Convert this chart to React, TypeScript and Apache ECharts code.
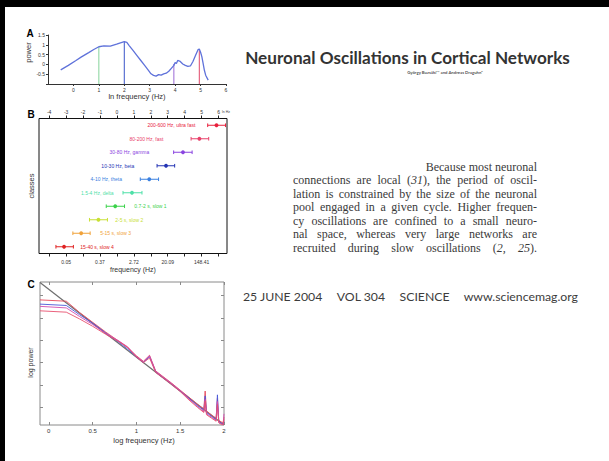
import React, { useEffect, useRef } from 'react';
import * as echarts from 'echarts';

// ---------- Panel A: power vs ln frequency ----------
const aFreq = [-0.5, -0.2, 0.1, 0.3, 0.6, 0.8, 1.0, 1.2, 1.45, 1.7, 1.85, 2.0, 2.1, 2.2, 2.35, 2.5, 2.65, 2.8, 2.95, 3.05, 3.15, 3.25, 3.35, 3.45, 3.55, 3.65, 3.75, 3.85, 3.95, 4.0, 4.05, 4.1, 4.2, 4.3, 4.4, 4.5, 4.6, 4.7, 4.8, 4.9, 4.95, 5.0, 5.05, 5.1, 5.15, 5.2, 5.3];
const aPower = [-0.28, -0.05, 0.2, 0.37, 0.6, 0.76, 0.9, 0.94, 0.93, 1.03, 1.1, 1.16, 1.12, 0.95, 0.7, 0.45, 0.2, -0.05, -0.3, -0.48, -0.56, -0.6, -0.52, -0.55, -0.48, -0.45, -0.35, -0.2, -0.05, 0.1, 0.05, 0.2, 0.15, 0.02, -0.05, -0.1, -0.08, 0.15, 0.45, 0.75, 0.78, 0.62, 0.4, 0.05, -0.3, -0.55, -0.8];
const aMarkFreq = [1, 2, 3.95, 4.95];
const aMarkTop = [0.9, 1.16, 0.02, 0.72];
const aMarkColors = ['#86d39a', '#3a55c8', '#9b6ad6', '#e0486a'];
const aXTicks = [0, 1, 2, 3, 4, 5, 6];

// ---------- Panel B: oscillation classes ----------
const bClasses = ['200-600 Hz, ultra fast', '80-200 Hz, fast', '30-80 Hz, gamma', '10-30 Hz, beta', '4-10 Hz, theta', '1.5-4 Hz, delta', '0.7-2 s, slow 1', '2-5 s, slow 2', '5-15 s, slow 3', '15-40 s, slow 4'];
const bLow = [5.36, 4.38, 3.35, 2.37, 1.38, 0.36, -0.63, -1.62, -2.6, -3.6];
const bMid = [5.88, 4.87, 3.9, 2.9, 1.91, 0.89, -0.1, -1.09, -2.11, -3.12];
const bHigh = [6.41, 5.42, 4.44, 3.41, 2.46, 1.48, 0.45, -0.56, -1.58, -2.57];
const bLabelAt = [4.63, 2.74, 1.91, 1.02, 0.3, -0.2, 1.03, -0.1, -0.99, -2.17];
const bLabelSide = ['left', 'left', 'left', 'left', 'left', 'left', 'right', 'right', 'right', 'right'];
const bColors = ['#e8203c', '#e8406a', '#8a44e0', '#2434b4', '#3a80e0', '#4ee0a8', '#3ad24a', '#c8e034', '#f0a23a', '#e02424'];
const bTopTicks = [-4, -3, -2, -1, 0, 1, 2, 3, 4, 5, 6];
const bBottomTickValues = [-3, -1, 1, 3, 5];
const bBottomTickLabels = ['0.05', '0.37', '2.72', '20.09', '148.41'];

// ---------- Panel C: log power vs log frequency ----------
const cFreq = [-0.1, 0.2, 0.35, 0.5, 0.65, 0.8, 0.9, 1.0, 1.08, 1.15, 1.22, 1.3, 1.4, 1.5, 1.6, 1.7, 1.77, 1.785, 1.8, 1.86, 1.91, 1.925, 1.94, 1.97, 1.99, 2.0];
const cPower1 = [4.80, 4.74, 4.24, 3.80, 3.36, 2.95, 2.66, 2.30, 2.05, 2.32, 1.62, 1.38, 1.08, 0.76, 0.44, 0.12, -0.08, 0.72, -0.18, -0.36, -0.50, 0.40, -0.60, -0.66, -0.70, -0.45];
const cPower2 = [4.61, 4.55, 4.14, 3.76, 3.32, 2.90, 2.60, 2.25, 2.00, 2.26, 1.58, 1.33, 1.04, 0.72, 0.40, 0.06, -0.14, 0.50, -0.24, -0.42, -0.56, 0.55, -0.64, -0.72, -0.76, -0.65];
const cPower3 = [4.51, 4.44, 4.06, 3.70, 3.30, 2.96, 2.70, 2.27, 2.03, 2.30, 1.60, 1.36, 1.06, 0.74, 0.36, 0.02, -0.20, 0.35, -0.30, -0.46, -0.60, 0.25, -0.68, -0.75, -0.78, -0.30];
const cPower4 = [4.31, 4.25, 3.95, 3.62, 3.26, 2.93, 2.68, 2.24, 1.99, 2.20, 1.55, 1.32, 1.02, 0.70, 0.32, -0.02, -0.24, 0.28, -0.34, -0.50, -0.63, 0.12, -0.70, -0.78, -0.80, -0.55];
const cLineColors = ['#e8485a', '#4a58d8', '#d44cb0', '#e8506e'];
const cRefFreq = [-0.1, 2.0];
const cRefPower = [5.58, -0.8];
const cXTicks = [0, 0.5, 1, 1.5, 2];
const cYTicks = [0, 1, 2, 3, 4, 5];

// ---------- Text ----------
const titleText = 'Neuronal Oscillations in Cortical Networks';
const authorText = 'György Buzsáki¹* and Andreas Draguhn²';
const firstLine = 'Because most neuronal';
const paraLines = [
  'connections are local (*31*), the period of oscil-',
  'lation is constrained by the size of the neuronal',
  'pool engaged in a given cycle. Higher frequen-',
  'cy oscillations are confined to a small neuro-',
  'nal space, whereas very large networks are',
  'recruited during slow oscillations (*2*, *25*).',
];
const footerParts = ['25 JUNE 2004', 'VOL 304', 'SCIENCE', 'www.sciencemag.org'];

const SANS = 'Liberation Sans';
const SERIF = 'Liberation Serif';
const HUMAN = 'Lato';

let ctx2d: CanvasRenderingContext2D | null = null;
function tw(text: string, font: string): number {
  if (!ctx2d) ctx2d = document.createElement('canvas').getContext('2d');
  if (!ctx2d) return text.length * 5;
  ctx2d.font = font;
  return ctx2d.measureText(text).width;
}

function justify(words: string[], left: number, right: number, y: number, fontSize: number, family: string, fill: string, weight = 'normal') {
  const font = `${weight} ${fontSize}px "${family}"`;
  const plain = words.map((w) => w.replace(/\*/g, ''));
  const widths = plain.map((w) => tw(w, font));
  const total = widths.reduce((s, v) => s + v, 0);
  const gap = words.length > 1 ? (right - left - total) / (words.length - 1) : 0;
  let x = left;
  return words.map((w, i) => {
    const el = {
      type: 'text',
      x,
      y,
      style: {
        text: w.replace(/\*(.*?)\*/g, '{i|$1}'),
        fill,
        fontSize,
        fontFamily: family,
        fontWeight: weight,
        align: 'left',
        verticalAlign: 'middle',
        rich: { i: { fontStyle: 'italic', fontSize, fontFamily: family, fill } },
      },
    };
    x += widths[i] + gap;
    return el;
  });
}

function buildOption() {
  const titleSize = (15 * 325) / tw(titleText, `bold 15px "${HUMAN}"`);
  const authorSize = (5 * 76) / tw(authorText, `bold 5px "${HUMAN}"`);
  const paraSize = Math.min(12, (11 * 242) / tw(paraLines[1], `11px "${SERIF}"`));
  const footTotal = footerParts.reduce((s, p) => s + tw(p, `11px "${HUMAN}"`), 0);
  const footSize = (11 * 293) / footTotal;

  const paraY = [180, 193.5, 207, 220.5, 234, 247.5];
  const graphics: any[] = [
    { type: 'rect', shape: { x: 0, y: 0, width: 5, height: 461 }, style: { fill: '#000' } },
    { type: 'rect', shape: { x: 0, y: 0, width: 609, height: 7 }, style: { fill: '#000' } },
    { type: 'text', x: 30, y: 33, style: { text: 'A', fontSize: 10, fontWeight: 'bold', fontFamily: SANS, fill: '#000', align: 'center', verticalAlign: 'middle' } },
    { type: 'text', x: 31, y: 114.5, style: { text: 'B', fontSize: 10, fontWeight: 'bold', fontFamily: SANS, fill: '#000', align: 'center', verticalAlign: 'middle' } },
    { type: 'text', x: 31, y: 284, style: { text: 'C', fontSize: 10, fontWeight: 'bold', fontFamily: SANS, fill: '#000', align: 'center', verticalAlign: 'middle' } },
    { type: 'text', x: 222, y: 111.5, style: { text: 'ln Hz', fontSize: 3.5, fontFamily: SANS, fill: '#444', align: 'left', verticalAlign: 'middle' } },
    { type: 'text', x: 407.5, y: 57, style: { text: titleText, fontSize: titleSize, fontWeight: 'bold', fontFamily: HUMAN, fill: '#333', align: 'center', verticalAlign: 'middle' } },
    { type: 'text', x: 445, y: 72.5, style: { text: authorText, fontSize: authorSize, fontWeight: 'bold', fontFamily: HUMAN, fill: '#555', align: 'center', verticalAlign: 'middle' } },
    { type: 'text', x: 537, y: 166.5, style: { text: firstLine, fontSize: paraSize, fontFamily: SERIF, fill: '#3a3a3a', align: 'right', verticalAlign: 'middle' } },
  ];
  paraLines.forEach((line, i) => {
    graphics.push(...justify(line.split(' '), 293, 537, paraY[i], paraSize, SERIF, '#3a3a3a'));
  });
  graphics.push(...justify(footerParts, 243, 578, 296, footSize, HUMAN, '#3c3c3c'));

  const axisFont = { fontFamily: SANS, color: '#333' };
  const hiddenLine = { show: false, onZero: false };

  return {
    animation: false,
    backgroundColor: '#ffffff',
    grid: [
      { left: 48, top: 35, width: 178, height: 49 },
      { left: 39, top: 118.5, width: 188, height: 135, show: true, borderColor: '#111', borderWidth: 1, backgroundColor: 'transparent' },
      { left: 40, top: 282, width: 184, height: 143, show: true, borderColor: '#8a8a8a', borderWidth: 1, backgroundColor: 'transparent' },
    ],
    xAxis: [
      {
        gridIndex: 0, type: 'value', min: -1, max: 6,
        axisLine: { show: true, onZero: false, lineStyle: { color: '#333', width: 1 } },
        axisTick: { show: true, length: 2, customValues: aXTicks, lineStyle: { color: '#333' } },
        axisLabel: { show: true, customValues: aXTicks, fontSize: 5, margin: 3, ...axisFont },
        splitLine: { show: false },
        name: 'ln frequency (Hz)', nameLocation: 'middle', nameGap: 8,
        nameTextStyle: { fontSize: 7.5, ...axisFont },
      },
      {
        gridIndex: 1, type: 'value', position: 'top', min: -4.6, max: 6.5,
        axisLine: hiddenLine,
        axisTick: { show: true, length: 3, customValues: bTopTicks, lineStyle: { color: '#222' } },
        axisLabel: { show: true, customValues: bTopTicks, fontSize: 5, margin: 4, ...axisFont },
        splitLine: { show: false },
      },
      {
        gridIndex: 1, type: 'value', position: 'bottom', min: -4.6, max: 6.5,
        axisLine: hiddenLine,
        axisTick: { show: true, length: 3, customValues: bTopTicks, lineStyle: { color: '#222' } },
        axisLabel: {
          show: true, customValues: bBottomTickValues, fontSize: 5, margin: 6, ...axisFont,
          formatter: (v: number) => {
            const k = bBottomTickValues.indexOf(v);
            return k >= 0 ? bBottomTickLabels[k] : '';
          },
        },
        splitLine: { show: false },
        name: 'frequency (Hz)', nameLocation: 'middle', nameGap: 12,
        nameTextStyle: { fontSize: 7, ...axisFont },
      },
      {
        gridIndex: 2, type: 'value', position: 'bottom', min: -0.1, max: 2,
        axisLine: hiddenLine,
        axisTick: { show: true, inside: true, length: 3, customValues: cXTicks, lineStyle: { color: '#8a8a8a' } },
        axisLabel: { show: true, customValues: cXTicks, fontSize: 6, margin: 3, ...axisFont },
        splitLine: { show: false },
        name: 'log frequency (Hz)', nameLocation: 'middle', nameGap: 11,
        nameTextStyle: { fontSize: 7.5, padding: [0, 0, 0, 24], ...axisFont },
      },
      {
        gridIndex: 2, type: 'value', position: 'top', min: -0.1, max: 2,
        axisLine: hiddenLine,
        axisTick: { show: true, inside: true, length: 3, customValues: cXTicks, lineStyle: { color: '#8a8a8a' } },
        axisLabel: { show: false },
        splitLine: { show: false },
      },
    ],
    yAxis: [
      {
        gridIndex: 0, type: 'value', min: -1, max: 1.5, interval: 0.5,
        axisLine: { show: true, onZero: false, lineStyle: { color: '#333', width: 1 } },
        axisTick: { show: true, length: 2, lineStyle: { color: '#333' } },
        axisLabel: { show: true, fontSize: 5, margin: 3, ...axisFont, formatter: (v: number) => (v === -1 ? '' : String(v)) },
        splitLine: { show: false },
        name: 'power', nameLocation: 'middle', nameGap: 12,
        nameTextStyle: { fontSize: 7.5, padding: [0, 0, 0, 14], ...axisFont },
      },
      {
        gridIndex: 1, type: 'category', data: bClasses, inverse: true,
        axisLine: hiddenLine, axisTick: { show: false }, axisLabel: { show: false },
        splitLine: { show: false },
        name: 'classes', nameLocation: 'middle', nameGap: 3.5,
        nameTextStyle: { fontSize: 7.5, ...axisFont },
      },
      {
        gridIndex: 2, type: 'value', min: -0.8, max: 5.6,
        axisLine: hiddenLine,
        axisTick: { show: true, inside: true, length: 3, customValues: cYTicks, lineStyle: { color: '#8a8a8a' } },
        axisLabel: { show: false },
        splitLine: { show: false },
        name: 'log power', nameLocation: 'middle', nameGap: 6,
        nameTextStyle: { fontSize: 7, padding: [0, 18, 0, 0], ...axisFont },
      },
      {
        gridIndex: 2, type: 'value', position: 'right', min: -0.8, max: 5.6,
        axisLine: hiddenLine,
        axisTick: { show: true, inside: true, length: 3, customValues: cYTicks, lineStyle: { color: '#8a8a8a' } },
        axisLabel: { show: false },
        splitLine: { show: false },
      },
    ],
    series: [
      {
        type: 'line', xAxisIndex: 0, yAxisIndex: 0, symbol: 'none',
        data: aFreq.map((f, i) => [f, aPower[i]]),
        lineStyle: { color: '#5f72da', width: 1.3 },
        z: 3,
      },
      ...aMarkFreq.map((f, i) => ({
        type: 'line', xAxisIndex: 0, yAxisIndex: 0, symbol: 'none',
        data: [[f, -1], [f, aMarkTop[i]]],
        lineStyle: { color: aMarkColors[i], width: 1 },
        z: 2,
      })),
      {
        type: 'custom', xAxisIndex: 2, yAxisIndex: 1,
        data: bClasses.map((_, i) => [bLow[i], bMid[i], bHigh[i], i]),
        encode: { x: [0, 1, 2], y: 3 },
        renderItem: (params: any, api: any) => {
          const i = params.dataIndex;
          const cat = api.value(3);
          const lo = api.coord([api.value(0), cat]);
          const mid = api.coord([api.value(1), cat]);
          const hi = api.coord([api.value(2), cat]);
          const lab = api.coord([bLabelAt[i], cat]);
          const color = bColors[i];
          const cap = 1.8;
          return {
            type: 'group',
            children: [
              { type: 'line', shape: { x1: lo[0], y1: lo[1], x2: hi[0], y2: hi[1] }, style: { stroke: color, lineWidth: 1 } },
              { type: 'line', shape: { x1: lo[0], y1: lo[1] - cap, x2: lo[0], y2: lo[1] + cap }, style: { stroke: color, lineWidth: 1 } },
              { type: 'line', shape: { x1: hi[0], y1: hi[1] - cap, x2: hi[0], y2: hi[1] + cap }, style: { stroke: color, lineWidth: 1 } },
              { type: 'circle', shape: { cx: mid[0], cy: mid[1], r: 1.9 }, style: { fill: color } },
              {
                type: 'text', x: lab[0], y: lab[1],
                style: {
                  text: bClasses[i], fill: color, fontSize: 5, fontFamily: SANS,
                  align: bLabelSide[i] === 'left' ? 'right' : 'left', verticalAlign: 'middle',
                },
              },
            ],
          };
        },
      },
      {
        type: 'line', xAxisIndex: 3, yAxisIndex: 2, symbol: 'none',
        data: cRefFreq.map((f, i) => [f, cRefPower[i]]),
        lineStyle: { color: '#6e6e6e', width: 1.2 },
        z: 2,
      },
      ...[cPower1, cPower2, cPower3, cPower4].map((arr, k) => ({
        type: 'line', xAxisIndex: 3, yAxisIndex: 2, symbol: 'none',
        data: cFreq.map((f, i) => [f, arr[i]]),
        lineStyle: { color: cLineColors[k], width: 0.9 },
        z: 3,
      })),
    ],
    graphic: graphics,
  };
}

export default function App() {
  const ref = useRef<HTMLDivElement>(null);
  useEffect(() => {
    if (!ref.current) return;
    const chart = echarts.init(ref.current, null, { renderer: 'svg' });
    chart.setOption(buildOption() as any);
    return () => chart.dispose();
  }, []);
  return (
    <div
      ref={ref}
      style={{ position: 'fixed', left: 0, top: 0, width: 609, height: 461, background: '#fff' }}
    />
  );
}
